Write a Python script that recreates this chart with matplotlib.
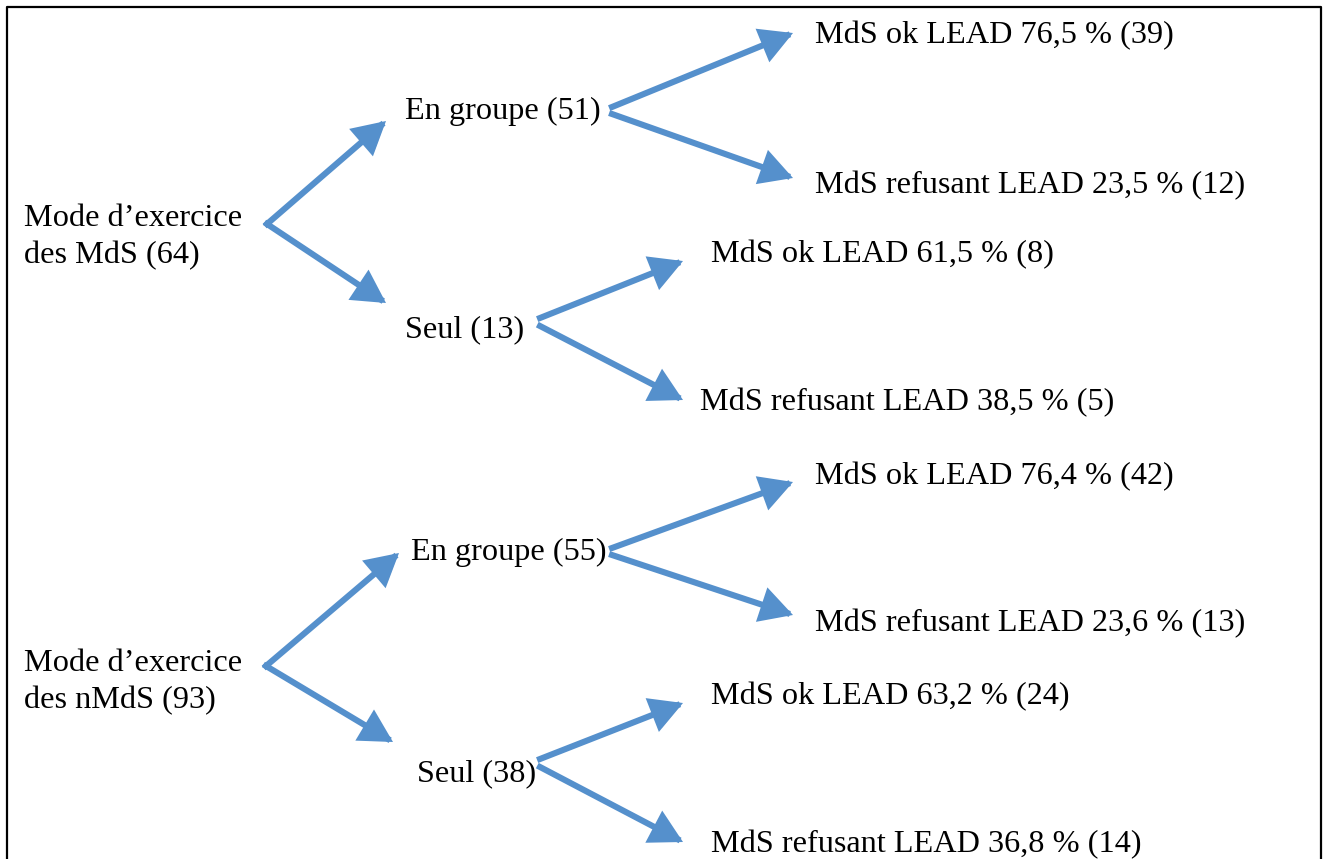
import matplotlib
matplotlib.use("Agg")
import matplotlib.pyplot as plt
from matplotlib.patches import FancyArrowPatch
import matplotlib.patheffects as pe

# données de l'arbre
groupes = ["MdS", "nMdS"]
totaux = [64, 93]
modes = ["En groupe", "Seul"]
effectifs_mode = [[51, 13], [55, 38]]
pct_ok = [[76.5, 61.5], [76.4, 63.2]]
n_ok = [[39, 8], [42, 24]]
pct_refus = [[23.5, 38.5], [23.6, 36.8]]
n_refus = [[12, 5], [13, 14]]

# mise en page (pixels de l'image)
racine_txt = [(24, 237), (24, 682)]
racine_sommet = [(267, 224), (266, 666)]
racine_pointes = [[(386, 121), (386, 303)], [(399, 553), (393, 742)]]
mode_txt = [[(405, 111), (405, 330)], [(411, 552), (417, 774)]]
mode_fleches = [
    [[((612, 107), (793, 33)), ((612, 114), (793, 178))],
     [((540, 318), (683, 261)), ((540, 326), (683, 400))]],
    [[((612, 548), (793, 482)), ((612, 555), (793, 615))],
     [((540, 759), (683, 703)), ((540, 767), (683, 842))]],
]
feuille_txt = [
    [[(815, 36), (815, 186)], [(711, 255), (700, 403)]],
    [[(815, 477), (815, 624)], [(711, 697), (711, 845)]],
]

W, H = 1324, 859
bleu = "#5590CC"
fs = 23.2

plt.rcParams["font.family"] = ["Liberation Serif", "DejaVu Serif"]

fig = plt.figure(figsize=(W / 100, H / 100), dpi=100)
ax = fig.add_axes([0, 0, 1, 1])
ax.set_xlim(0, W)
ax.set_ylim(H, 0)
ax.axis("off")

ombre = [pe.SimplePatchShadow(offset=(1.5, -1.5), shadow_rgbFace="0.5", alpha=0.3), pe.Normal()]


def fleche(a, b):
    p = FancyArrowPatch(a, b, arrowstyle="-|>,head_length=1.0,head_width=0.55",
                        mutation_scale=17, lw=4.4, color=bleu,
                        shrinkA=0, shrinkB=0, capstyle="projecting", joinstyle="miter")
    p.set_path_effects(ombre)
    ax.add_patch(p)


# cadre (ouvert en bas)
ax.plot([7, 7, 1321, 1321], [H + 5, 7, 7, H + 5], color="black", lw=1.6, clip_on=False)

for g in range(len(groupes)):
    x, y = racine_txt[g]
    ax.text(x, y, f"Mode d’exercice\ndes {groupes[g]} ({totaux[g]})",
            fontsize=fs, ha="left", va="center", linespacing=1.34)
    for pointe in racine_pointes[g]:
        fleche(racine_sommet[g], pointe)
    for m in range(len(modes)):
        x, y = mode_txt[g][m]
        ax.text(x, y, f"{modes[m]} ({effectifs_mode[g][m]})",
                fontsize=fs, ha="left", va="center")
        for a, b in mode_fleches[g][m]:
            fleche(a, b)
        ok = f"MdS ok LEAD {pct_ok[g][m]:.1f} % ({n_ok[g][m]})".replace(".", ",")
        refus = f"MdS refusant LEAD {pct_refus[g][m]:.1f} % ({n_refus[g][m]})".replace(".", ",")
        for txt, (x, y) in zip([ok, refus], feuille_txt[g][m]):
            ax.text(x, y, txt, fontsize=fs, ha="left", va="center")

fig.savefig("out.png", dpi=100)
